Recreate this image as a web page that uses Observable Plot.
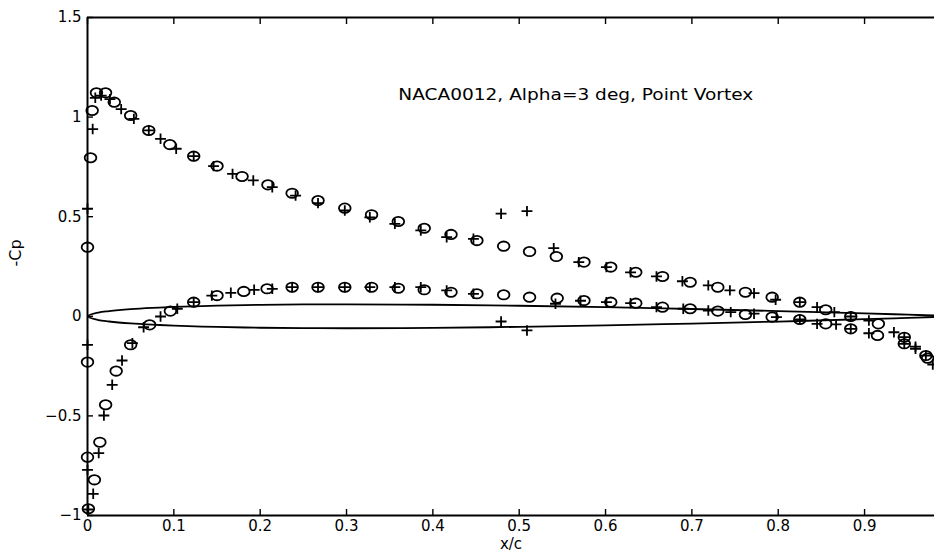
<!DOCTYPE html>
<html>
<head>
<meta charset="utf-8">
<script src="https://cdn.jsdelivr.net/npm/d3@7"></script>
<script src="https://cdn.jsdelivr.net/npm/@observablehq/plot@0.6"></script>
<style>
  html, body { margin: 0; padding: 0; background: #fff; }
  #chart { width: 934px; height: 555px; overflow: hidden; }
</style>
</head>
<body>
<div id="chart"></div>
<script>
// Axis ticks and labels
const xTicks = [0, 0.1, 0.2, 0.3, 0.4, 0.5, 0.6, 0.7, 0.8, 0.9];
const xTickLabels = ["0", "0.1", "0.2", "0.3", "0.4", "0.5", "0.6", "0.7", "0.8", "0.9"];
const yTicks = [-1, -0.5, 0, 0.5, 1, 1.5];
const yTickLabels = ["\u22121", "\u22120.5", "0", "0.5", "1", "1.5"];
const xLabel = "x/c";
const yLabel = "-Cp";
const titleText = "NACA0012, Alpha=3 deg, Point Vortex";

// NACA 0012 section: chordwise stations and half-thickness (tabulated ordinates)
const foilX = [1.0, 0.95, 0.9, 0.8, 0.7, 0.6, 0.5, 0.4, 0.3, 0.25, 0.2, 0.15, 0.1, 0.075, 0.05, 0.025, 0.0125, 0];
const foilHalfT = [0.00126, 0.00807, 0.01448, 0.02623, 0.03664, 0.04563, 0.05294, 0.05803, 0.06002, 0.05941, 0.05737, 0.05345, 0.04683, 0.04200, 0.03555, 0.02615, 0.01894, 0];

// -Cp, circle markers: upper surface
const circleUpperX  = [0.0, 0.0035, 0.0054, 0.0104, 0.0209, 0.031, 0.050, 0.071, 0.0954, 0.123, 0.150, 0.179, 0.209, 0.237, 0.267, 0.298, 0.329, 0.360, 0.390, 0.421, 0.451, 0.482, 0.512, 0.543, 0.575, 0.606, 0.635, 0.666, 0.698, 0.730, 0.762, 0.793, 0.825, 0.855, 0.884, 0.916, 0.946, 0.971];
const circleUpperCp = [0.347, 0.796, 1.033, 1.122, 1.122, 1.075, 1.008, 0.933, 0.862, 0.804, 0.754, 0.702, 0.660, 0.618, 0.581, 0.543, 0.510, 0.476, 0.442, 0.411, 0.380, 0.352, 0.325, 0.300, 0.272, 0.247, 0.221, 0.200, 0.171, 0.146, 0.121, 0.096, 0.071, 0.033, -0.001, -0.038, -0.105, -0.197];

// -Cp, circle markers: lower surface
const circleLowerX  = [0.0, 0.0, 0.001, 0.008, 0.0143, 0.021, 0.0332, 0.050, 0.072, 0.096, 0.123, 0.150, 0.181, 0.208, 0.237, 0.267, 0.298, 0.329, 0.360, 0.390, 0.421, 0.451, 0.482, 0.512, 0.544, 0.575, 0.606, 0.635, 0.666, 0.698, 0.730, 0.762, 0.793, 0.825, 0.855, 0.884, 0.915, 0.946, 0.973];
const circleLowerCp = [-0.230, -0.707, -0.966, -0.821, -0.632, -0.444, -0.275, -0.143, -0.043, 0.026, 0.071, 0.104, 0.125, 0.138, 0.146, 0.146, 0.146, 0.146, 0.141, 0.133, 0.121, 0.113, 0.108, 0.096, 0.091, 0.079, 0.071, 0.066, 0.046, 0.038, 0.026, 0.009, -0.004, -0.016, -0.038, -0.063, -0.096, -0.138, -0.210];

// -Cp, plus markers: upper surface
const plusUpperX  = [0.0, 0.006, 0.009, 0.0158, 0.026, 0.039, 0.0537, 0.071, 0.0846, 0.1027, 0.123, 0.146, 0.168, 0.192, 0.214, 0.241, 0.267, 0.298, 0.327, 0.356, 0.386, 0.416, 0.447, 0.479, 0.509, 0.540, 0.569, 0.601, 0.629, 0.659, 0.689, 0.719, 0.744, 0.772, 0.797, 0.825, 0.845, 0.865, 0.884, 0.905, 0.934, 0.946, 0.959, 0.971];
const plusUpperCp = [0.540, 0.940, 1.097, 1.108, 1.090, 1.040, 0.991, 0.933, 0.891, 0.841, 0.804, 0.754, 0.715, 0.682, 0.648, 0.606, 0.568, 0.531, 0.497, 0.464, 0.431, 0.397, 0.389, 0.515, 0.528, 0.342, 0.272, 0.247, 0.221, 0.200, 0.176, 0.155, 0.130, 0.116, 0.083, 0.071, 0.046, 0.021, -0.001, -0.021, -0.080, -0.105, -0.152, -0.197];

// -Cp, plus markers: lower surface
const plusLowerX  = [0.0, 0.0, 0.001, 0.0066, 0.013, 0.019, 0.0286, 0.040, 0.052, 0.065, 0.0846, 0.104, 0.123, 0.144, 0.166, 0.193, 0.214, 0.237, 0.267, 0.298, 0.327, 0.356, 0.386, 0.416, 0.447, 0.479, 0.509, 0.542, 0.571, 0.601, 0.629, 0.659, 0.690, 0.719, 0.745, 0.772, 0.798, 0.825, 0.845, 0.867, 0.884, 0.905, 0.946, 0.959, 0.979];
const plusLowerCp = [-0.143, -0.771, -0.970, -0.891, -0.687, -0.498, -0.344, -0.222, -0.135, -0.055, -0.001, 0.038, 0.071, 0.104, 0.118, 0.133, 0.138, 0.146, 0.146, 0.146, 0.146, 0.146, 0.146, 0.130, 0.113, -0.026, -0.071, 0.063, 0.078, 0.071, 0.066, 0.046, 0.038, 0.029, 0.021, 0.013, -0.004, -0.016, -0.038, -0.041, -0.063, -0.085, -0.138, -0.163, -0.242];

// Assemble point tables
const pairs = (xs, ys) => xs.map((x, i) => ({x, cp: ys[i]}));
const circles = pairs(circleUpperX, circleUpperCp).concat(pairs(circleLowerX, circleLowerCp));
const pluses = pairs(plusUpperX, plusUpperCp).concat(pairs(plusLowerX, plusLowerCp));

// Closed section outline: upper surface TE -> LE, then lower surface LE -> TE
const upperSide = foilX.map((x, i) => ({x, cp: foilHalfT[i]}));
const lowerSide = foilX.map((x, i) => ({x, cp: -foilHalfT[i]})).reverse().slice(1);
const outline = upperSide.concat(lowerSide);

// Open marker shapes
const ellipseSymbol = {
  draw(context, size) {
    const r = Math.sqrt(size / Math.PI);
    const rx = r * 1.1, ry = r * 0.88, k = 0.5523;
    context.moveTo(rx, 0);
    context.bezierCurveTo(rx, ry * k, rx * k, ry, 0, ry);
    context.bezierCurveTo(-rx * k, ry, -rx, ry * k, -rx, 0);
    context.bezierCurveTo(-rx, -ry * k, -rx * k, -ry, 0, -ry);
    context.bezierCurveTo(rx * k, -ry, rx, -ry * k, rx, 0);
    context.closePath();
  }
};
const plusSymbol = {
  draw(context, size) {
    const r = Math.sqrt(size / Math.PI);
    context.moveTo(-r * 1.05, 0);
    context.lineTo(r * 1.05, 0);
    context.moveTo(0, -r);
    context.lineTo(0, r);
  }
};

const chart = Plot.plot({
  width: 934,
  height: 555,
  marginLeft: 87,
  marginRight: 0,
  marginTop: 17,
  marginBottom: 40,
  x: {domain: [0, 0.981]},
  y: {domain: [-1, 1.5]},
  style: {
    fontFamily: "'DejaVu Sans', 'Liberation Sans', Arial, sans-serif",
    fontSize: "15px",
    color: "#000",
    background: "#fff"
  },
  marks: [
    Plot.line(outline, {x: "x", y: "cp", curve: "catmull-rom", stroke: "#000", strokeWidth: 1.8, clip: true}),
    Plot.dot(circles, {x: "x", y: "cp", symbol: ellipseSymbol, r: 5.3, fill: "none", stroke: "#000", strokeWidth: 1.8}),
    Plot.dot(pluses, {x: "x", y: "cp", symbol: plusSymbol, r: 5.2, fill: "none", stroke: "#000", strokeWidth: 1.8}),
    Plot.text([titleText], {x: 0.36, y: 1.11, text: d => d, textAnchor: "start", fontSize: 16.5, fill: "#000", className: "chart-title"}),
    Plot.ruleY([-1, 1.5], {stroke: "#000", strokeWidth: 2}),
    Plot.ruleX([0], {stroke: "#000", strokeWidth: 2}),
    Plot.axisX({
      ticks: xTicks, tickSize: -6, tickPadding: 11, strokeWidth: 1.4,
      tickFormat: (d, i) => xTickLabels[i], label: null
    }),
    Plot.axisX({anchor: "top", ticks: xTicks, tickSize: -6, strokeWidth: 1.4, tickFormat: () => "", label: null}),
    Plot.axisY({
      ticks: yTicks, tickSize: -6, tickPadding: 12, strokeWidth: 1.4,
      tickFormat: (d, i) => yTickLabels[i], label: null
    }),
    Plot.text([xLabel], {frameAnchor: "bottom", dy: 33, text: d => d, fontSize: 15, fill: "#000"}),
    Plot.text([yLabel], {frameAnchor: "left", dx: -72, rotate: -90, text: d => d, fontSize: 16, fill: "#000"})
  ]
});

// The title is set slightly wide, as in the printed figure
d3.select(chart).selectAll(".chart-title text")
  .attr("textLength", 355)
  .attr("lengthAdjust", "spacingAndGlyphs");

document.getElementById("chart").appendChild(chart);
</script>
</body>
</html>
